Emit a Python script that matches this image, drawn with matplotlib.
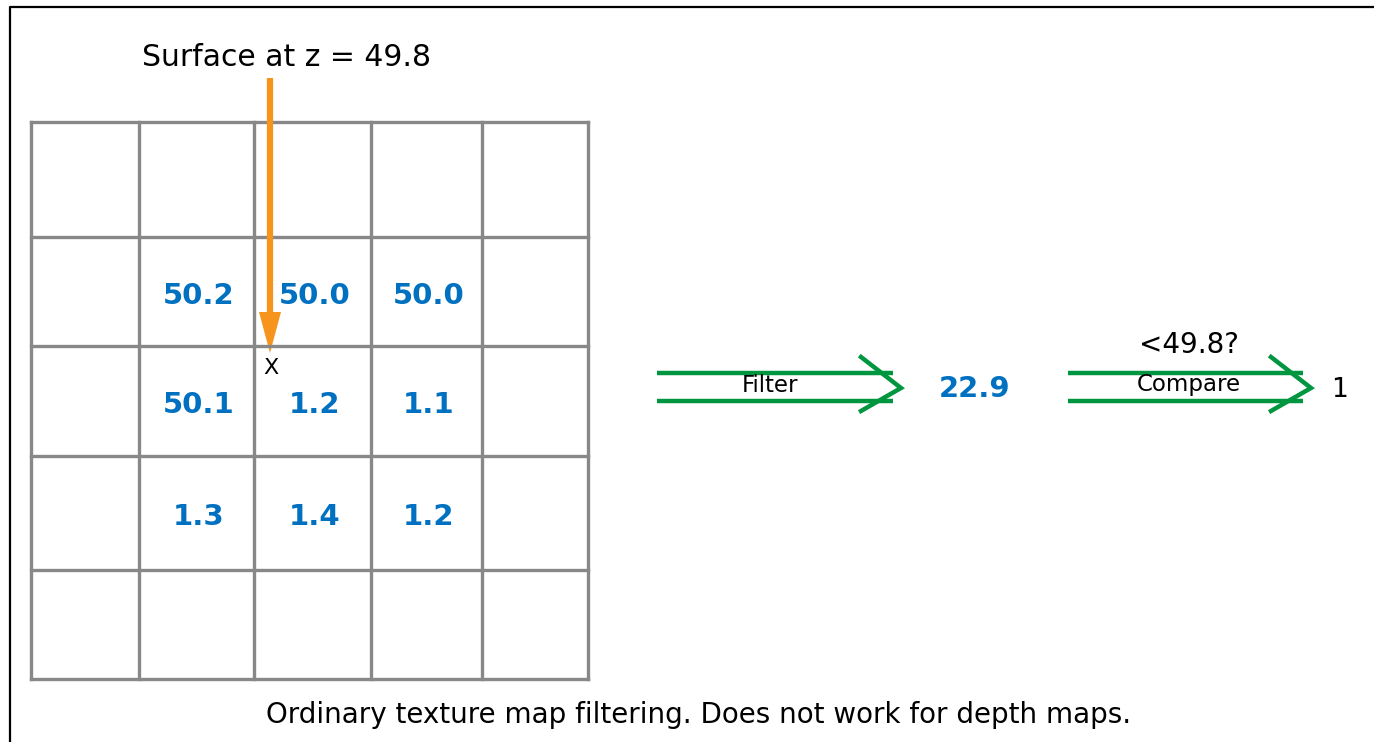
import matplotlib
matplotlib.use("Agg")
import matplotlib.pyplot as plt

# Data
col_edges = [31, 139, 254, 371, 482, 588]
row_edges = [122, 237, 346, 456, 570, 679]
cell_values = [
    [None, None, None, None, None],
    [None, "50.2", "50.0", "50.0", None],
    [None, "50.1", "1.2", "1.1", None],
    [None, "1.3", "1.4", "1.2", None],
    [None, None, None, None, None],
]
surface_label = "Surface at z = 49.8"
filtered_value = "22.9"
compare_label = "<49.8?"
result_value = "1"
caption = "Ordinary texture map filtering. Does not work for depth maps."

W, H = 1374, 742
fig = plt.figure(figsize=(W / 100, H / 100), dpi=100)
ax = fig.add_axes([0, 0, 1, 1])
ax.set_xlim(0, W)
ax.set_ylim(H, 0)
ax.axis("off")

# outer frame
ax.plot([10, 10, W + 5], [H + 5, 7, 7], color="black", lw=1.6)

grid_col = "#888888"
for x in col_edges:
    ax.plot([x, x], [row_edges[0], row_edges[-1]], color=grid_col, lw=2.4, solid_capstyle="projecting")
for y in row_edges:
    ax.plot([col_edges[0], col_edges[-1]], [y, y], color=grid_col, lw=2.4, solid_capstyle="projecting")

blue = "#0070C0"
for r, row in enumerate(cell_values):
    for c, v in enumerate(row):
        if v is None:
            continue
        cx = (col_edges[c] + col_edges[c + 1]) / 2 + 2
        cy = (row_edges[r] + row_edges[r + 1]) / 2 + 4
        ax.text(cx, cy, v, color=blue, fontsize=21, fontweight="bold",
                ha="center", va="center", family="DejaVu Sans")

# surface label and orange arrow
ax.text(287, 57, surface_label, fontsize=21.5, ha="center", va="center")
orange = "#F7941D"
ax.plot([270, 270], [78, 316], color=orange, lw=4.5, solid_capstyle="butt")
ax.fill([259, 281, 270], [312, 312, 353], color=orange, lw=0)
ax.text(271, 368, "X", fontsize=16, ha="center", va="center")

# green double arrows
green = "#00963F"
def dbl_arrow(x0, x1, label, lx):
    for y in (373, 401):
        ax.plot([x0, x1 - 8], [y, y], color=green, lw=3.2, solid_capstyle="butt")
    ax.plot([x1 - 40, x1, x1 - 40], [357, 388, 411], color=green, lw=3.2,
            solid_joinstyle="miter")
    ax.text(lx, 385, label, fontsize=16.5, ha="center", va="center")

dbl_arrow(657, 901, "Filter", 770)
dbl_arrow(1068, 1311, "Compare", 1189)

ax.text(975, 389, filtered_value, color=blue, fontsize=21, fontweight="bold",
        ha="center", va="center")
ax.text(1189, 345, compare_label, fontsize=20, ha="center", va="center")
ax.text(1339, 390, result_value, fontsize=19, ha="center", va="center")

ax.text(699, 715, caption, fontsize=20, ha="center", va="center")

fig.savefig("out.png", dpi=100)
